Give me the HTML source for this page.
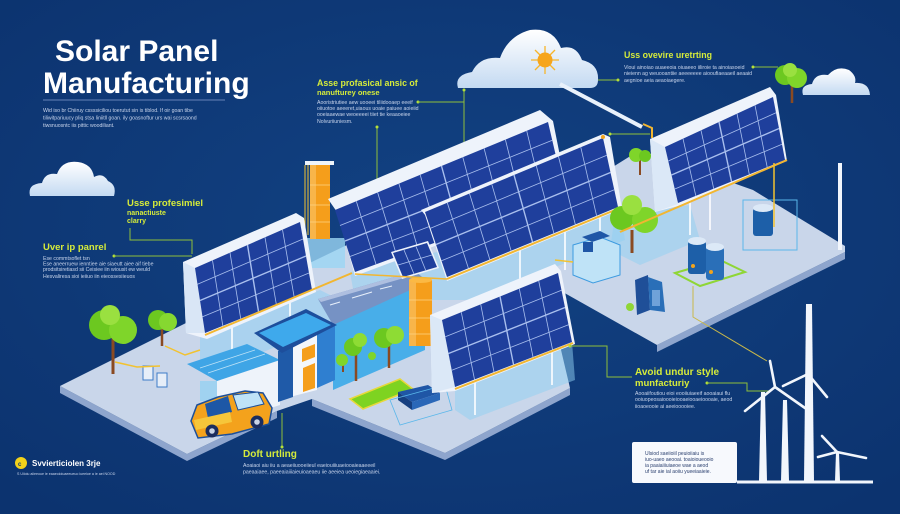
<!DOCTYPE html>
<html><head><meta charset="utf-8">
<style>
html,body{margin:0;padding:0;background:#0d3775;}
svg{display:block;}
text{font-family:"Liberation Sans",sans-serif;}
.h{fill:#d6ec3a;font-weight:bold;}
.s{fill:#c9d5ec;font-size:5.2px;}
.cell{fill:#1f3f9c;}
.gl{stroke:#a9bfee;stroke-width:0.8;fill:none;}
.cn{stroke:#8fbf3a;stroke-width:1;fill:none;}
</style></head>
<body>
<svg width="900" height="514" viewBox="0 0 900 514" xmlns="http://www.w3.org/2000/svg">
<defs>
<radialGradient id="bg" cx="0.5" cy="0.45" r="0.7">
<stop offset="0" stop-color="#124283"/><stop offset="1" stop-color="#0c336f"/>
</radialGradient>
<linearGradient id="cl" x1="0" y1="0" x2="0" y2="1">
<stop offset="0" stop-color="#ffffff"/><stop offset="1" stop-color="#c4daf2"/>
</linearGradient>
</defs>
<rect width="900" height="514" fill="url(#bg)"/>

<!-- Title -->
<text x="55" y="61" font-size="30" font-weight="bold" fill="#fff">Solar Panel</text>
<text x="43" y="93" font-size="30" font-weight="bold" fill="#fff">Manufacturing</text>
<line x1="43" y1="100" x2="225" y2="100" stroke="#6783b8" stroke-width="1"/>
<text class="s" x="43" y="112">Wid iso br Chiiruy cssssiciliou toerutut sin is tiblod. If oir goan tibe</text>
<text class="s" x="43" y="119.5">tiliwitpariuucy pliq stsa liniitll goan. ily goasnoftur urs wai scsrsaond</text>
<text class="s" x="43" y="127">tiwsnuosntc iis pittic woodiliant.</text>

<!-- Clouds -->
<path d="M30,196 Q27,184 42,183 Q45,172 57,174 Q62,160 78,162 Q92,164 94,177 Q103,172 108,181 Q117,185 114,196 Z" fill="url(#cl)"/>
<path d="M458,88 Q454,75 472,72 Q480,56 500,58 Q508,36 530,30 Q553,27 561,48 Q576,44 582,60 Q599,64 598,80 Q598,88 590,88 Z" fill="url(#cl)"/>
<path d="M803,95 Q800,85 812,84 Q815,73 828,75 Q837,65 849,70 Q857,76 855,83 Q869,82 870,95 Z" fill="url(#cl)"/>
<!-- sun -->
<g stroke="#f7b52a" stroke-width="1.3">
<line x1="545" y1="46" x2="545" y2="74"/><line x1="531" y1="60" x2="559" y2="60"/>
<line x1="535" y1="50" x2="555" y2="70"/><line x1="555" y1="50" x2="535" y2="70"/>
</g>
<circle cx="545" cy="60" r="7.5" fill="#f6a51c"/>
<!-- beam -->
<line x1="560" y1="84" x2="642" y2="127" stroke="#e9f1fb" stroke-width="4"/>
<polyline points="643,124 652,128 652,138" stroke="#f2b630" stroke-width="2" fill="none"/>

<!-- text blocks -->
<text class="h" x="127" y="206" font-size="9.5">Usse profesimiel</text>
<text class="h" x="127" y="215" font-size="7">nanactiuste</text>
<text class="h" x="127" y="223" font-size="7">clarry</text>
<polyline class="cn" points="130,228 130,240 192,240 192,254"/>

<text class="h" x="43" y="250" font-size="9.5">Uver ip panrel</text>
<circle cx="114" cy="256" r="1.5" fill="#b5e03a"/>
<line class="cn" x1="114" y1="256" x2="192" y2="256"/>
<text class="s" x="43" y="260">Ese commtsoflet tsn</text>
<text class="s" x="43" y="265.5">Ese aneerruew ienntiee aie siaeutt aiee aif tiebe</text>
<text class="s" x="43" y="271">prodsitsiretiasd sii Ceisiee iin wiousit ew weuld</text>
<text class="s" x="43" y="278">Hesvaliresa sioi ieiiuo iin eieossesiieuos</text>

<text class="h" x="317" y="86" font-size="8.8">Asse profasical ansic of</text>
<text class="h" x="317" y="95" font-size="7.5">nanufturey onese</text>
<text class="s" x="317" y="104">Aooristriutiee aew uooeei tiliidooaep eeeif</text>
<text class="s" x="317" y="110">oiiuotoe aeeeret,uiaous uoaie paiuee aoieiid</text>
<text class="s" x="317" y="116">ooeiaaewae weoeeeei tiiet tie keaaoeiee</text>
<text class="s" x="317" y="123">Nolvuriiuniesm.</text>
<circle cx="418" cy="102" r="1.5" fill="#b5e03a"/>
<line class="cn" x1="418" y1="102" x2="464" y2="102"/>
<line class="cn" x1="464" y1="90" x2="464" y2="143"/>
<circle cx="464" cy="90" r="1.5" fill="#b5e03a"/>
<line class="cn" x1="377" y1="127" x2="377" y2="182"/>
<circle cx="377" cy="127" r="1.5" fill="#b5e03a"/>

<text class="h" x="624" y="58" font-size="8.8">Uss ovevire uretrting</text>
<text class="s" x="624" y="69">Vioui ainoiao auaeeoia oiuaeeo iiliroie ta ainoiasoeid</text>
<text class="s" x="624" y="75">nieienn ag weuooantiie aeeeeeee aiooufiaeaaeil aeaaid</text>
<text class="s" x="624" y="82">aegnioe aeia aeaoiaegere.</text>
<line class="cn" x1="598" y1="80" x2="618" y2="80"/>
<circle cx="618" cy="80" r="1.5" fill="#b5e03a"/>
<line class="cn" x1="753" y1="67" x2="778" y2="67"/>
<circle cx="753" cy="67" r="1.5" fill="#b5e03a"/>
<line class="cn" x1="610" y1="134" x2="650" y2="134"/>
<circle cx="610" cy="134" r="1.5" fill="#b5e03a"/>

<!-- Tree top right -->
<line x1="792" y1="85" x2="792" y2="103" stroke="#8a4a22" stroke-width="2.5"/>
<circle cx="785" cy="75" r="10" fill="#6cc820"/><circle cx="797" cy="78" r="10" fill="#7fd52a"/><circle cx="790" cy="70" r="7" fill="#9ae040"/>

<!-- GROUND -->
<!-- side faces -->
<polygon points="60,386 187,454 187,461 60,393" fill="#8ea5cd"/>
<polygon points="187,454 277,411 277,418 187,461" fill="#8ea5cd"/>
<polygon points="312,399 445,453 445,460 312,406" fill="#8ea5cd"/>
<polygon points="445,453 570,388 570,395 445,460" fill="#8ea5cd"/>
<polygon points="657,345 845,252 845,259 657,352" fill="#8ea5cd"/>
<!-- main left/middle -->
<polygon points="60,386 200,316 440,200 600,200 545,282 570,388 445,453 312,399 277,411 187,454" fill="#c9d6ea"/>
<!-- right platform -->
<polygon points="545,282 560,200 640,150 753,190 845,246 845,252 657,345" fill="#c9d6ea"/>

<!-- glass structures under panels -->
<polygon points="200,335 320,290 340,300 340,320 220,370 200,360" fill="#8fd0f2" opacity="0.55"/>
<polygon points="350,272 620,210 625,240 470,300 355,300" fill="#8fd0f2" opacity="0.5"/>
<polygon points="615,215 690,205 700,240 640,265 610,250" fill="#8fd0f2" opacity="0.5"/>
<polygon points="455,388 572,342 575,380 470,420 455,410" fill="#8fd0f2" opacity="0.5"/>
<polygon points="743,200 797,200 797,250 743,250" fill="none" stroke="#5ab7ea" stroke-width="1"/>
<g stroke="#ffffff" stroke-width="1.6">
<line x1="232" y1="325" x2="232" y2="360"/><line x1="290" y1="300" x2="290" y2="335"/>
<line x1="520" y1="245" x2="520" y2="290"/><line x1="565" y1="225" x2="565" y2="270"/><line x1="600" y1="212" x2="600" y2="255"/>
<line x1="475" y1="380" x2="475" y2="415"/><line x1="552" y1="350" x2="552" y2="385"/>
<line x1="690" y1="200" x2="690" y2="235"/><line x1="710" y1="192" x2="710" y2="230"/>
</g>

<!-- Orange tank 1 -->
<rect x="303" y="238" width="42" height="30" fill="#9bd6f4" opacity="0.8"/>
<rect x="305" y="161" width="29" height="4" fill="#eef4fb"/>
<g stroke="#f2c230" stroke-width="1"><line x1="305" y1="165" x2="305" y2="235"/><line x1="308" y1="165" x2="308" y2="235"/></g>
<rect x="310" y="165" width="20" height="74" fill="#f59e1b"/>
<rect x="310" y="165" width="6" height="74" fill="#f8b54a"/>
<g stroke="#fcd283" stroke-width="0.8"><line x1="310" y1="185" x2="330" y2="185"/><line x1="310" y1="205" x2="330" y2="205"/><line x1="310" y1="222" x2="330" y2="222"/></g>

<!-- Long building -->
<polygon points="333,323 425,282 425,350 333,390" fill="#48aee9"/>
<polygon points="318,299 415,271 428,282 333,325" fill="#7692c4"/>
<polygon points="318,299 415,271 418,274 321,302" fill="#aebfe0"/>
<g stroke="#e8f0fb" stroke-width="1"><line x1="330" y1="305" x2="340" y2="302"/><line x1="352" y1="298" x2="372" y2="292"/><line x1="380" y1="289" x2="392" y2="286"/></g>

<!-- Left white box with glass roof -->
<polygon points="217,381 280,360 280,405 217,425" fill="#eef3fa"/>
<polygon points="187,364 247,344 280,360 217,381" fill="#3fa5e6"/>
<g stroke="#bfe3f7" stroke-width="0.8"><line x1="200" y1="368" x2="255" y2="350"/><line x1="208" y1="373" x2="265" y2="354"/></g>
<rect x="200" y="381" width="17" height="20" fill="#8fd0f2" opacity="0.7"/>

<!-- Blue roof building -->
<polygon points="317,327 335,326 335,380 317,388" fill="#2f7fd0"/>
<polygon points="278,351 317,334 317,390 278,400" fill="#f3f6fb"/>
<polygon points="278,351 293,345 293,397 278,402" fill="#1f5aa8"/>
<polygon points="302,349 315,344 315,357 302,362" fill="#f59e1b"/>
<polygon points="303,368 315,363 315,388 303,392" fill="#f59e1b"/>
<polygon points="254,333 306,309 337,325 282,353" fill="#1d4e9c"/>
<polygon points="259,333 306,313 331,325 283,347" fill="#3ea9ec"/>

<!-- Car -->
<polygon points="191,421 197,405 218,397 245,391 263,393 272,408 269,424 232,434 198,438" fill="#f4a21c" stroke="#1c4f9a" stroke-width="1.5"/>
<polygon points="205,404 228,396 232,412 208,418" fill="#1d57a6"/>
<polygon points="233,395 258,392 264,404 238,410" fill="#bfe3f7" stroke="#1c4f9a" stroke-width="1"/>
<polygon points="194,420 230,412 232,422 196,430" fill="#f6c63a"/>
<circle cx="212" cy="431" r="6.5" fill="#1b2d5e"/><circle cx="212" cy="431" r="2.8" fill="#c8d3e6"/>
<circle cx="257" cy="422" r="6.5" fill="#1b2d5e"/><circle cx="257" cy="422" r="2.8" fill="#c8d3e6"/>

<!-- small boxes left -->
<rect x="143" y="366" width="10" height="14" fill="#e6eef8" stroke="#3d7cc8" stroke-width="1"/>
<rect x="157" y="373" width="10" height="14" fill="#e6eef8" stroke="#3d7cc8" stroke-width="1"/>
<polyline points="115,362 137,367 160,366" stroke="#f2c230" stroke-width="1.5" fill="none"/>
<polyline points="165,346 185,355 200,350" stroke="#f2c230" stroke-width="1.5" fill="none"/>

<!-- trees left -->
<line x1="113" y1="338" x2="113" y2="374" stroke="#8a4a22" stroke-width="3"/>
<circle cx="104" cy="325" r="15" fill="#6cc820"/><circle cx="123" cy="330" r="14" fill="#7fd52a"/><circle cx="110" cy="315" r="10" fill="#9ae040"/>
<line x1="162" y1="328" x2="162" y2="346" stroke="#8a4a22" stroke-width="2.5"/>
<circle cx="158" cy="320" r="10" fill="#6cc820"/><circle cx="168" cy="322" r="9" fill="#86d830"/>

<!-- trees near building -->
<line x1="343" y1="360" x2="343" y2="372" stroke="#8a4a22" stroke-width="2"/>
<circle cx="342" cy="360" r="6" fill="#7fd52a"/>
<line x1="356" y1="350" x2="356" y2="381" stroke="#8a4a22" stroke-width="2.5"/>
<circle cx="353" cy="347" r="9" fill="#6cc820"/><circle cx="360" cy="340" r="7" fill="#8edc34"/>
<line x1="389" y1="345" x2="389" y2="368" stroke="#8a4a22" stroke-width="2.5"/>
<circle cx="384" cy="338" r="10" fill="#6cc820"/><circle cx="395" cy="335" r="9" fill="#8edc34"/>
<circle cx="372" cy="356" r="4" fill="#7fd52a"/>

<!-- pool & bench -->
<polygon points="350,399 400,379 413,389 363,409" fill="#7ed321" stroke="#e8d83a" stroke-width="1.5"/>
<polygon points="398,392 428,385 440,393 412,402" fill="#1f56a6"/>
<polygon points="398,392 412,402 412,410 398,400" fill="#163f80"/>
<polygon points="412,402 440,393 440,400 412,410" fill="#2a67b8"/>
<polygon points="390,400 445,385 452,410 400,425" fill="none" stroke="#5ab7ea" stroke-width="0.8"/>

<!-- Orange tank 2 -->
<rect x="409" y="280" width="23" height="66" fill="#f59e1b"/>
<rect x="409" y="280" width="7" height="66" fill="#f8b54a"/>
<ellipse cx="420.5" cy="280" rx="11.5" ry="3" fill="#fbb944"/>
<g stroke="#fcd283" stroke-width="0.8"><line x1="409" y1="300" x2="432" y2="300"/><line x1="409" y1="318" x2="432" y2="318"/><line x1="409" y1="334" x2="432" y2="334"/></g>

<!-- LEFT PANEL -->
<polygon points="183,262 296,213 304,218 316,292 207,339 186,333" fill="#eef3fb"/>
<polygon points="183,262 195,268 205,333 186,333" fill="#d9e6f6"/>
<polygon class="cell" points="195,268 300,222 312,290 205,333"/>
<g class="gl">
<line x1="212.5" y1="260.3" x2="222.8" y2="325.8"/><line x1="230" y1="252.7" x2="240.7" y2="318.7"/>
<line x1="247.5" y1="245" x2="258.5" y2="311.5" stroke-width="1.4"/><line x1="265" y1="237.3" x2="276.3" y2="304.3"/>
<line x1="282.5" y1="229.7" x2="294.2" y2="297.2"/>
<line x1="197.5" y1="284.3" x2="303" y2="239"/><line x1="200" y1="300.5" x2="306" y2="256" stroke-width="1.4"/><line x1="202.5" y1="316.8" x2="309" y2="273"/>
</g>
<line x1="205" y1="335" x2="352" y2="273" stroke="#f2b630" stroke-width="2"/>

<!-- BACK BIG PANEL B1 -->
<polygon points="328,199 540,110 553,121 568,196 355,276 337,212" fill="#eef3fb"/>
<polygon class="cell" points="335,210 548,122 565,195 355,272"/>
<g class="gl">
<line x1="356.3" y1="201.2" x2="376" y2="264.3"/><line x1="377.6" y1="192.4" x2="397" y2="256.6"/>
<line x1="398.9" y1="183.6" x2="418" y2="248.9"/><line x1="420.2" y1="174.8" x2="439" y2="241.2"/>
<line x1="441.5" y1="166" x2="460" y2="233.5" stroke-width="1.4"/><line x1="462.8" y1="157.2" x2="481" y2="225.8"/>
<line x1="484.1" y1="148.4" x2="502" y2="218.1"/><line x1="505.4" y1="139.6" x2="523" y2="210.4"/>
<line x1="526.7" y1="130.8" x2="544" y2="202.7"/>
<line x1="340" y1="225.5" x2="552.3" y2="140.3"/><line x1="345" y1="241" x2="556.5" y2="158.5" stroke-width="1.4"/><line x1="350" y1="256.5" x2="560.8" y2="176.8"/>
</g>
<!-- small panel -->
<polygon points="391,252 428,241 439,268 402,279" fill="#eef3fb"/>
<polygon class="cell" points="393,253 427,243 437,267 403,277"/>
<g class="gl"><line x1="404" y1="250" x2="414" y2="274"/><line x1="416" y1="246.5" x2="426" y2="271"/><line x1="398" y1="265" x2="432" y2="255"/></g>

<!-- FRONT PANEL B2 -->
<polygon points="421,210 603,134 610,137 622,209 447,281 425,215" fill="#eef3fb"/>
<polygon class="cell" points="425,212 603,138 618,207 447,277"/>
<g class="gl">
<line x1="447.3" y1="202.8" x2="468.4" y2="268.3"/><line x1="469.5" y1="193.5" x2="489.8" y2="259.5"/>
<line x1="491.8" y1="184.3" x2="511.1" y2="250.8"/><line x1="514" y1="175" x2="532.5" y2="242" stroke-width="1.4"/>
<line x1="536.3" y1="165.8" x2="553.9" y2="233.3"/><line x1="558.5" y1="156.5" x2="575.3" y2="224.5"/>
<line x1="580.8" y1="147.3" x2="596.6" y2="215.8"/>
<line x1="430.5" y1="228.3" x2="606.8" y2="155.3"/><line x1="436" y1="244.5" x2="610.5" y2="172.5" stroke-width="1.4"/><line x1="441.5" y1="260.8" x2="614.3" y2="189.8"/>
</g>
<line x1="447" y1="279" x2="620" y2="208" stroke="#f2b630" stroke-width="2"/>
<circle cx="603" cy="137" r="2" fill="#f2a31c"/>
<line x1="355" y1="274" x2="447" y2="279" stroke="#f2b630" stroke-width="1.5"/>

<!-- right platform items -->
<line x1="640" y1="160" x2="640" y2="175" stroke="#8a4a22" stroke-width="2"/>
<circle cx="636" cy="155" r="7" fill="#7fd52a"/><circle cx="645" cy="156" r="6" fill="#6cc820"/>
<!-- machine -->
<polygon points="573,245 600,237 620,245 620,275 593,283 573,275" fill="#bfe3f7" stroke="#3d9be0" stroke-width="1"/>
<polygon points="582,237 600,231 610,236 592,242" fill="#1f56a6"/>
<rect x="583" y="242" width="10" height="10" fill="#1f56a6"/>
<polyline points="555,260 573,262" stroke="#f2c230" stroke-width="1.5"/>
<!-- big tree -->
<line x1="632" y1="230" x2="632" y2="253" stroke="#8a4a22" stroke-width="3"/>
<circle cx="622" cy="218" r="12" fill="#6cc820"/><circle cx="645" cy="220" r="13" fill="#7fd52a"/><circle cx="632" cy="205" r="10" fill="#9ae040"/>
<!-- cylinders -->
<polygon points="675,273 720,260 745,272 700,286" fill="none" stroke="#8fd636" stroke-width="2"/>
<rect x="688" y="241" width="18" height="33" rx="3" fill="#1d5fa8"/><ellipse cx="697" cy="241" rx="9" ry="4" fill="#dce9f7"/>
<rect x="706" y="247" width="18" height="33" rx="3" fill="#2a6fb8"/><ellipse cx="715" cy="247" rx="9" ry="4" fill="#dce9f7"/>
<circle cx="693" cy="266" r="2" fill="#f2a31c"/><circle cx="711" cy="272" r="2" fill="#f2a31c"/>
<rect x="753" y="208" width="20" height="28" rx="3" fill="#1d5fa8"/><ellipse cx="763" cy="208" rx="10" ry="4" fill="#dce9f7"/>
<!-- servers -->
<polygon points="635,280 648,275 650,310 637,315" fill="#1f4f98"/>
<polygon points="648,277 662,282 665,312 650,310" fill="#2a6fb8"/>
<rect x="652" y="290" width="8" height="16" fill="#9fc4ee" opacity="0.6"/>
<circle cx="630" cy="307" r="4" fill="#8fd636"/>
<polyline points="693,286 693,317 767,361" stroke="#c9b84a" stroke-width="1" fill="none"/>

<!-- RIGHT PANEL -->
<polygon points="650,139 770,87 776,95 787,161 678,206 655,212" fill="#eef3fb"/>
<polygon points="650,139 665,147 678,204 655,212" fill="#dbe8f7"/>
<polygon class="cell" points="665,147 773,97 785,160 678,203"/>
<g class="gl">
<line x1="683" y1="138.7" x2="695.8" y2="195.8"/><line x1="701" y1="130.3" x2="713.7" y2="188.7"/>
<line x1="719" y1="122" x2="731.5" y2="181.5" stroke-width="1.4"/><line x1="737" y1="113.7" x2="749.3" y2="174.3"/>
<line x1="755" y1="105.3" x2="767.2" y2="167.2"/>
<line x1="668.3" y1="161" x2="776" y2="112.8"/><line x1="671.5" y1="175" x2="779" y2="128.5" stroke-width="1.4"/><line x1="674.8" y1="189" x2="782" y2="144.3"/>
</g>
<line x1="620" y1="232" x2="787" y2="160" stroke="#f2b630" stroke-width="2"/>
<line x1="774" y1="163" x2="774" y2="227" stroke="#f2c230" stroke-width="1.5"/>
<!-- white pole right -->
<line x1="840" y1="163" x2="840" y2="250" stroke="#f2f6fc" stroke-width="4"/>

<!-- AVOID PANEL -->
<polygon points="430,315 555,264 561,271 575,344 455,391 432,393" fill="#eef3fb"/>
<polygon points="430,315 442,320 455,387 432,393" fill="#dbe8f7"/>
<polygon class="cell" points="442,320 558,273 572,342 455,387"/>
<g class="gl">
<line x1="461.3" y1="312.2" x2="474.5" y2="379.5"/><line x1="480.7" y1="304.3" x2="494" y2="372"/>
<line x1="500" y1="296.5" x2="513.5" y2="364.5" stroke-width="1.4"/><line x1="519.3" y1="288.7" x2="533" y2="357"/>
<line x1="538.7" y1="280.8" x2="552.5" y2="349.5"/>
<line x1="445.3" y1="336.8" x2="561.5" y2="290.3"/><line x1="448.5" y1="353.5" x2="565" y2="307.5" stroke-width="1.4"/><line x1="451.8" y1="370.3" x2="568.5" y2="324.8"/>
</g>
<line x1="455" y1="389" x2="573" y2="343" stroke="#f2b630" stroke-width="2"/>

<!-- connectors lower -->
<circle cx="570" cy="346" r="1.5" fill="#b5e03a"/>
<polyline class="cn" points="570,346 607,346 607,377 632,377"/>
<text class="h" x="635" y="375" font-size="10">Avoid undur style</text>
<text class="h" x="635" y="386" font-size="9.5">munfacturiy</text>
<circle cx="707" cy="383" r="1.5" fill="#b5e03a"/>
<polyline class="cn" points="707,383 747,383 747,391 770,391"/>
<text class="s" x="635" y="395">Aooaiifoutiou eioi eooiiuiaeeif aooaiaui flu</text>
<text class="s" x="635" y="401">ooiuopeosaioooieiooaeiooaeioooaie, aeod</text>
<text class="s" x="635" y="408">iioaoeooie ai aeeiooooiee.</text>

<line class="cn" x1="282" y1="413" x2="282" y2="447"/>
<circle cx="282" cy="447" r="1.5" fill="#b5e03a"/>
<text class="h" x="243" y="457" font-size="10">Doft urtling</text>
<text class="s" x="243" y="467">Aoaiaoi aiu iiu a aeaeiiuooeiieul eaeiouiiiuaeiooaieaaeeeil</text>
<text class="s" x="243" y="473.5">paeaaiaee, paeeaiaiiiaieuioaeaeu iie aeeiea ueoiegiaeaaiei.</text>

<!-- logo -->
<circle cx="21" cy="463" r="6" fill="#f2d21a"/>
<text x="18" y="466" font-size="6" font-weight="bold" fill="#0d3775">c</text>
<text x="32" y="466" font-size="8" font-weight="bold" fill="#ffffff">Svvierticiolen 3rje</text>
<text x="17" y="475" font-size="3.6" fill="#c9d5ec">S Uiioiu aiieeoue ie eaaeoioiuaeeueuo iueeioe a ie aei   NOOD</text>

<!-- Wind turbines -->
<g fill="#f2f6fc">
<polygon points="806,304 812,304 814,481 804,481"/>
<polygon points="761,392 765,392 767,481 759,481"/>
<polygon points="783,400 787,400 789,481 781,481"/>
<polygon points="836,452 839,452 840,481 835,481"/>
</g>
<g stroke="#f2f6fc" stroke-width="2.6" stroke-linecap="round" fill="none">
<line x1="775" y1="387" x2="770" y2="361"/><line x1="775" y1="387" x2="805" y2="408"/><line x1="775" y1="387" x2="745" y2="411"/>
<line x1="808" y1="374" x2="783" y2="386"/><line x1="808" y1="374" x2="827" y2="397"/>
<line x1="837" y1="452" x2="822" y2="436"/><line x1="837" y1="452" x2="866" y2="458"/><line x1="837" y1="452" x2="818" y2="457"/>
</g>
<line x1="737" y1="482" x2="873" y2="482" stroke="#f2f6fc" stroke-width="3"/>

<!-- white text box -->
<rect x="632" y="442" width="105" height="41" rx="2" fill="#f7f9fd"/>
<text x="645" y="455" font-size="5" fill="#2a3f6e">Ulsiod saeiioiil peuioiiaiu is</text>
<text x="645" y="461" font-size="5" fill="#2a3f6e">iuo-uaeo aeooai. toaioioueooio</text>
<text x="645" y="467" font-size="5" fill="#2a3f6e">ia paaiaiiiuiaeoe wae a aeod</text>
<text x="645" y="473" font-size="5" fill="#2a3f6e">uf tar aie ial aoiiu yueeiaaieie.</text>
</svg>
</body></html>
